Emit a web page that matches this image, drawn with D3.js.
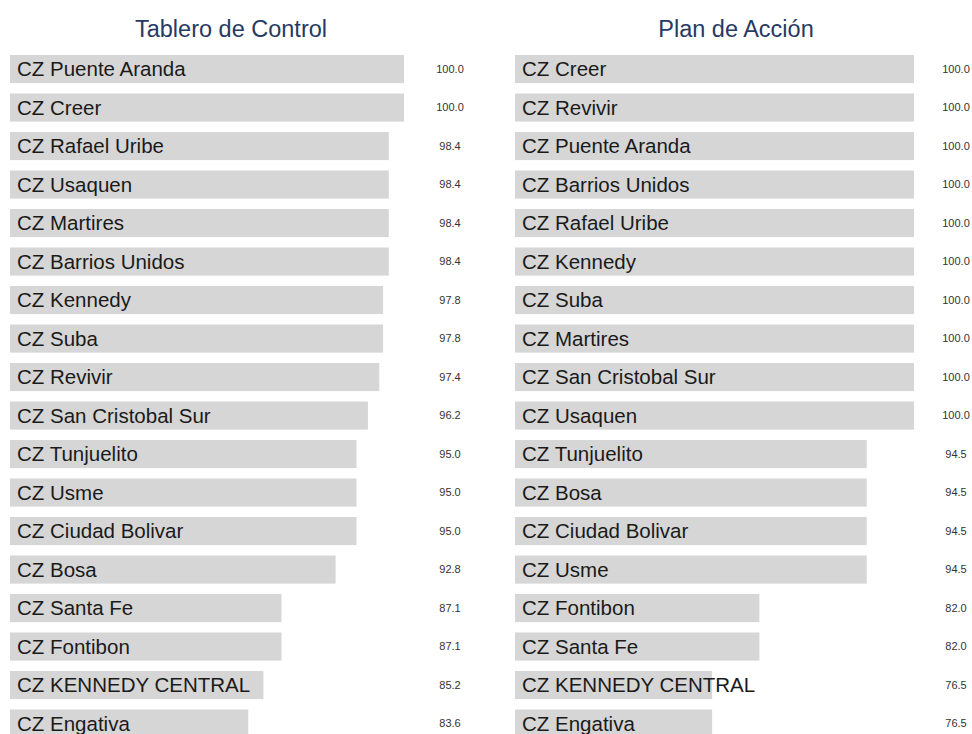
<!doctype html>
<html>
<head>
<meta charset="utf-8">
<script src="https://cdn.jsdelivr.net/npm/d3@7"></script>
<style>
  body { margin: 0; background: #fff; }
  svg { display: block; font-family: "Liberation Sans", Arial, sans-serif; }
</style>
</head>
<body>
<svg id="chart" width="972" height="734"></svg>
<script>
// Tablero de Control
var tableroNames = ["CZ Puente Aranda", "CZ Creer", "CZ Rafael Uribe", "CZ Usaquen", "CZ Martires",
  "CZ Barrios Unidos", "CZ Kennedy", "CZ Suba", "CZ Revivir", "CZ San Cristobal Sur", "CZ Tunjuelito",
  "CZ Usme", "CZ Ciudad Bolivar", "CZ Bosa", "CZ Santa Fe", "CZ Fontibon", "CZ KENNEDY CENTRAL", "CZ Engativa"];
var tableroValues = [100.0, 100.0, 98.4, 98.4, 98.4, 98.4, 97.8, 97.8, 97.4, 96.2, 95.0, 95.0, 95.0, 92.8, 87.1, 87.1, 85.2, 83.6];

// Plan de Acción
var planNames = ["CZ Creer", "CZ Revivir", "CZ Puente Aranda", "CZ Barrios Unidos", "CZ Rafael Uribe",
  "CZ Kennedy", "CZ Suba", "CZ Martires", "CZ San Cristobal Sur", "CZ Usaquen", "CZ Tunjuelito",
  "CZ Bosa", "CZ Ciudad Bolivar", "CZ Usme", "CZ Fontibon", "CZ Santa Fe", "CZ KENNEDY CENTRAL", "CZ Engativa"];
var planValues = [100.0, 100.0, 100.0, 100.0, 100.0, 100.0, 100.0, 100.0, 100.0, 100.0, 94.5, 94.5, 94.5, 94.5, 82.0, 82.0, 76.5, 76.5];

var panels = [
  {title: "Tablero de Control", names: tableroNames, values: tableroValues, x0: 10, barW: 394, valX: 450},
  {title: "Plan de Acción", names: planNames, values: planValues, x0: 515, barW: 399, valX: 956}
];

var svg = d3.select("#chart");
var step = 38.5;

panels.forEach(function(p) {
  var rows = p.names.map(function(n, i) { return {name: n, value: p.values[i]}; });

  // bars start at 70% of the smallest value
  var xScale = d3.scaleLinear()
    .domain([d3.min(p.values) * 0.7, d3.max(p.values)])
    .range([0, p.barW]);
  var yScale = d3.scaleBand()
    .domain(p.names)
    .range([49.8, 49.8 + step * p.names.length])
    .paddingInner(0.27)
    .paddingOuter(0.135);

  var g = svg.append("g").attr("transform", "translate(" + p.x0 + ",0)");

  g.append("text")
    .attr("x", 221)
    .attr("y", 37)
    .attr("text-anchor", "middle")
    .style("font-size", "23.5px")
    .style("fill", "#263a63")
    .text(p.title);

  var row = g.selectAll("g.row")
    .data(rows)
    .enter().append("g")
    .attr("class", "row");

  row.append("rect")
    .attr("x", 0)
    .attr("y", d => yScale(d.name))
    .attr("width", d => xScale(d.value))
    .attr("height", yScale.bandwidth())
    .style("fill", "#d6d6d6");

  row.append("text")
    .attr("x", 7)
    .attr("y", d => yScale(d.name) + yScale.bandwidth() / 2)
    .attr("dy", "0.35em")
    .style("font-size", "20.5px")
    .style("fill", "#1a1a1a")
    .text(d => d.name);

  row.append("text")
    .attr("x", p.valX - p.x0)
    .attr("y", d => yScale(d.name) + yScale.bandwidth() / 2)
    .attr("dy", "0.35em")
    .attr("text-anchor", "middle")
    .style("font-size", "11px")
    .style("fill", "#333")
    .text(d => d.value.toFixed(1));
});
</script>
</body>
</html>
